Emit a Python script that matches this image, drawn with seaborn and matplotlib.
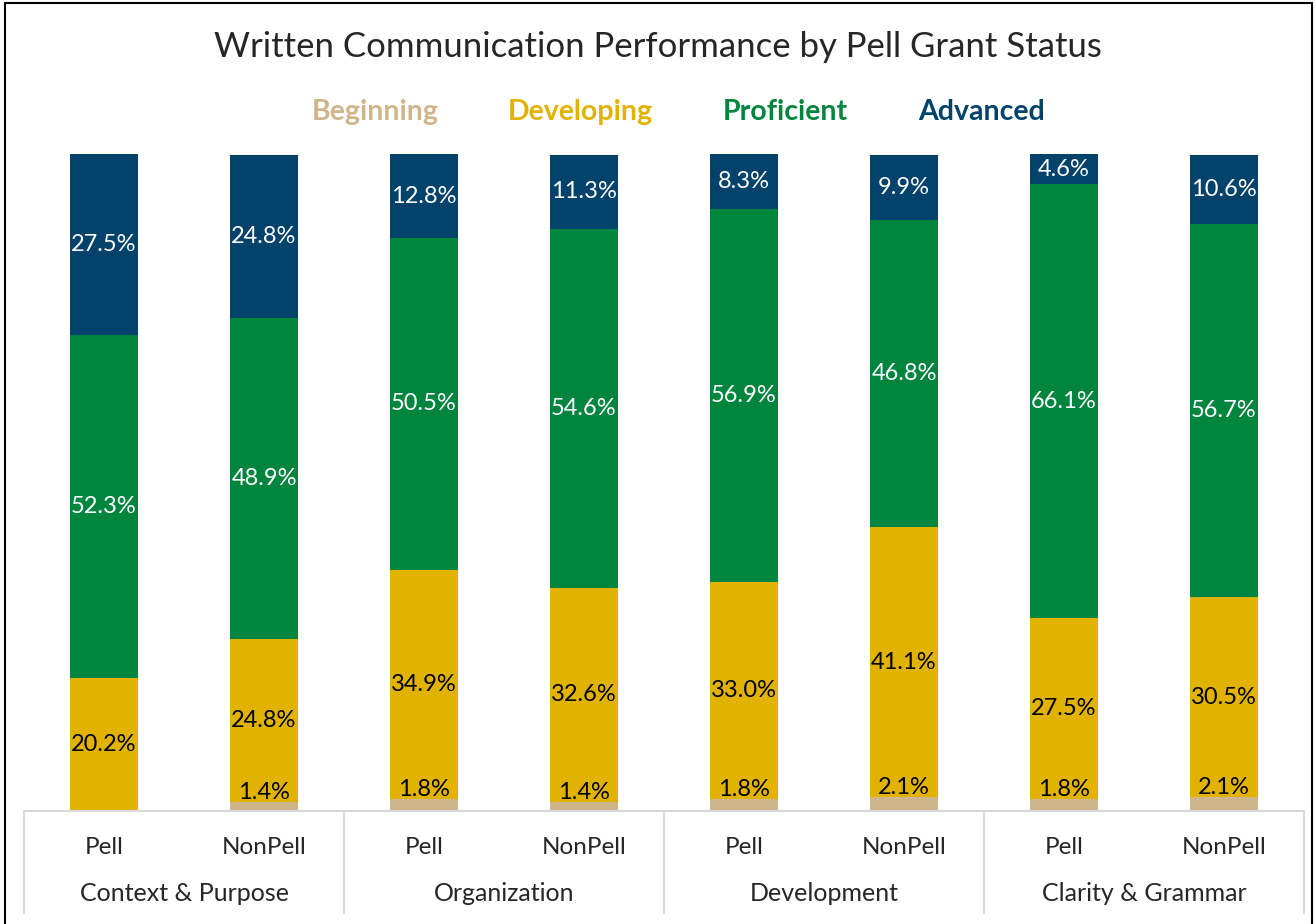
import numpy as np
import pandas as pd
import matplotlib
matplotlib.use("Agg")
import matplotlib.pyplot as plt
from matplotlib.lines import Line2D
import seaborn as sns

sns.set_style("white")
plt.rcParams['font.family'] = ['Lato', 'DejaVu Sans']

# --- data ---
skills = ['Context & Purpose', 'Organization', 'Development', 'Clarity & Grammar']
groups = ['Pell', 'NonPell']
levels = ['Beginning', 'Developing', 'Proficient', 'Advanced']
colors = ['#CFB68A', '#E1B300', '#00853F', '#02426B']
text_colors = ['black', 'black', 'white', 'white']

beginning = [0.0, 1.4, 1.8, 1.4, 1.8, 2.1, 1.8, 2.1]
developing = [20.2, 24.8, 34.9, 32.6, 33.0, 41.1, 27.5, 30.5]
proficient = [52.3, 48.9, 50.5, 54.6, 56.9, 46.8, 66.1, 56.7]
advanced = [27.5, 24.8, 12.8, 11.3, 8.3, 9.9, 4.6, 10.6]

bar_ids = [f'{s}|{g}' for s in skills for g in groups]
df = pd.DataFrame({'bar': bar_ids,
                   'Beginning': beginning, 'Developing': developing,
                   'Proficient': proficient, 'Advanced': advanced})
cum = df[levels].cumsum(axis=1)

fig = plt.figure(figsize=(13.15, 9.24), dpi=100)
ax = fig.add_axes([24 / 1315, 113 / 924, 1280 / 1315, 657 / 924])

# stacked bars: draw cumulative totals from the top level down
for i in range(len(levels) - 1, -1, -1):
    sns.barplot(x=df['bar'], y=cum[levels[i]], order=bar_ids, color=colors[i],
                width=0.425, saturation=1, ax=ax, linewidth=0)

# data labels
for j in range(len(bar_ids)):
    for i, lev in enumerate(levels):
        v = df[lev].iloc[j]
        if v <= 0:
            continue
        top = cum[lev].iloc[j]
        if lev == 'Beginning':
            ax.annotate(f'{v:.1f}%', (j, top), xytext=(0, 2), textcoords='offset points',
                        ha='center', va='baseline', fontsize=17, color=text_colors[i])
        else:
            ax.text(j, top - v / 2, f'{v:.1f}%', ha='center', va='center',
                    fontsize=17, color=text_colors[i])

ax.set_xlim(-0.5, len(bar_ids) - 0.5)
ax.set_ylim(0, 100)
ax.set_yticks([])
ax.set_xlabel('')
ax.set_ylabel('')
for sp in ax.spines.values():
    sp.set_visible(False)

ax.set_xticks(range(len(bar_ids)))
ax.set_xticklabels(groups * len(skills), fontsize=17.5)
ax.tick_params(axis='x', length=0, pad=19)

# category axis lines
grid_c = '#D9D9D9'
ax.plot([-0.5, len(bar_ids) - 0.5], [0, 0], color=grid_c, lw=1.5, clip_on=False)
for k in range(len(skills) + 1):
    xb = -0.5 + 2 * k
    ax.plot([xb, xb], [0, -15.5], color=grid_c, lw=1.5, clip_on=False)
for k, s in enumerate(skills):
    ax.text(2 * k + 0.5, -12.5, s, ha='center', va='center', fontsize=18)

fig.suptitle('Written Communication Performance by Pell Grant Status',
             fontsize=25, y=1 - 47 / 924, va='center')

handles = [Line2D([], [], linestyle='none') for _ in levels]
leg = fig.legend(handles, levels, loc='center', bbox_to_anchor=(678 / 1315, 1 - 112 / 924),
                 ncol=4, frameon=False, handlelength=0, handletextpad=0,
                 columnspacing=2.45, prop={'weight': 'bold', 'size': 20.5})
for t, c in zip(leg.get_texts(), colors):
    t.set_color(c)

# chart border
for xs, ys in [([5, 5], [0, 921]), ([5, 1312], [921, 921]), ([1312, 1312], [0, 921])]:
    fig.add_artist(Line2D([x / 1315 for x in xs], [y / 924 for y in ys],
                          color='black', lw=1.5))

fig.savefig('out.png', dpi=100)
